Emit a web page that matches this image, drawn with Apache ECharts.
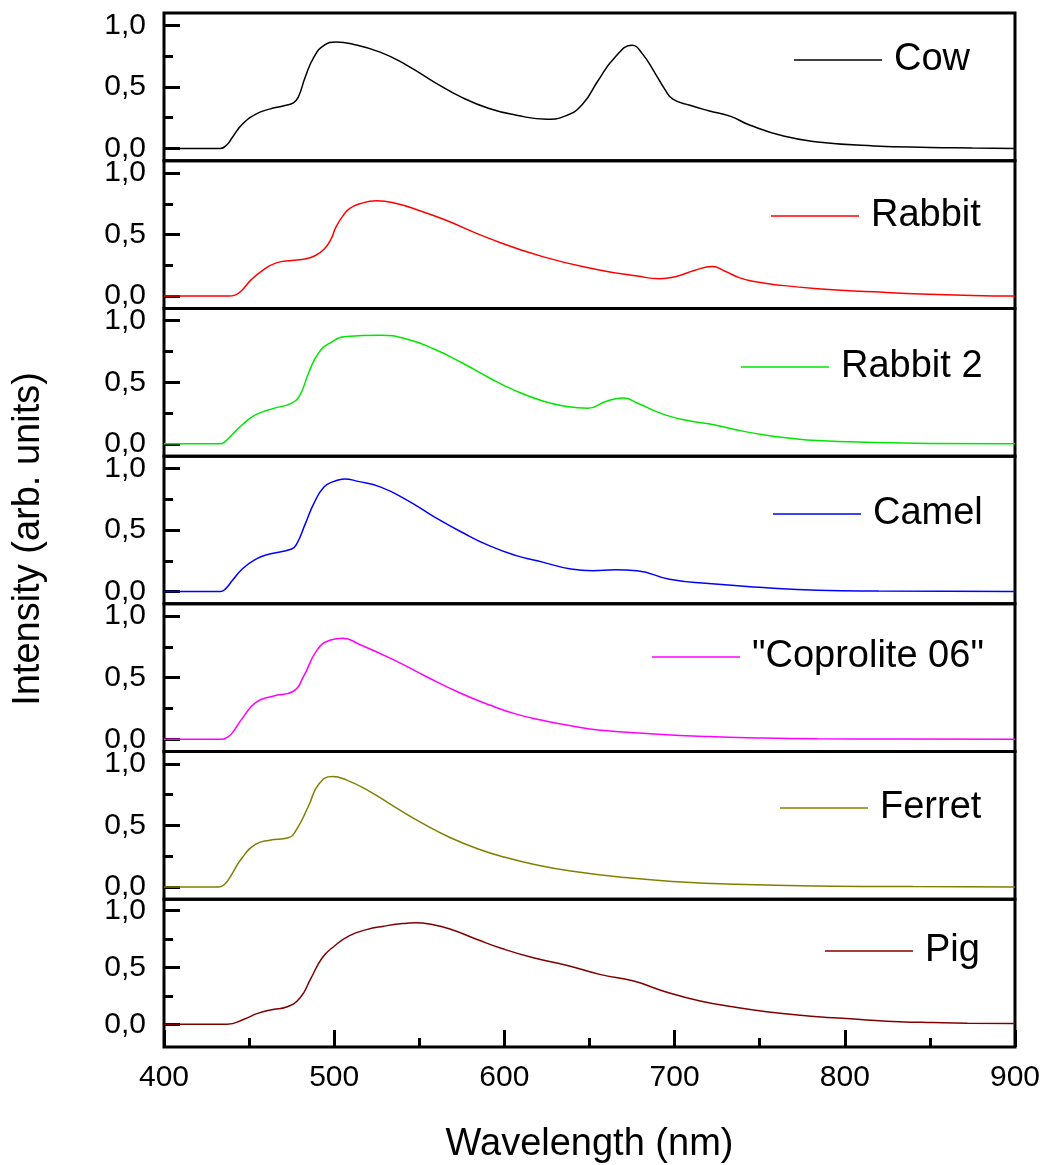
<!DOCTYPE html>
<html>
<head>
<meta charset="utf-8">
<script src="https://cdn.jsdelivr.net/npm/echarts@6/dist/echarts.min.js"></script>
<style>
  html, body { margin: 0; padding: 0; background: #fff; }
  #chart { width: 1046px; height: 1165px; }
</style>
</head>
<body>
<div id="chart"></div>
<script>
// spectra (wavelength in nm, normalised intensity)
var names = ["Cow", "Rabbit", "Rabbit 2", "Camel", "\"Coprolite 06\"", "Ferret", "Pig"];

var cowNm = [400, 433, 437, 440, 446, 454, 462, 470, 476, 479, 483, 488, 494, 501, 510, 527, 543, 559, 575, 591, 607, 625, 636, 646, 655, 665, 675, 681, 689, 694, 699, 709, 720, 733, 744, 764, 784, 817, 850, 875, 900];
var cowVal = [0, 0, 0.03, 0.087, 0.196, 0.278, 0.319, 0.345, 0.37, 0.42, 0.58, 0.74, 0.837, 0.864, 0.85, 0.782, 0.673, 0.537, 0.414, 0.324, 0.27, 0.237, 0.264, 0.36, 0.55, 0.741, 0.837, 0.77, 0.6, 0.486, 0.40, 0.35, 0.306, 0.26, 0.19, 0.10, 0.053, 0.02, 0.008, 0.004, 0];

var rabbitNm = [400, 438, 442, 446, 451, 458, 466, 475, 482, 489, 494, 498, 501, 505, 509, 515, 525, 536, 549, 565, 591, 623, 655, 678, 691, 701, 712, 722, 730, 738, 746, 758, 784, 817, 849, 875, 900];
var rabbitVal = [0, 0, 0.01, 0.05, 0.13, 0.21, 0.27, 0.29, 0.30, 0.33, 0.38, 0.46, 0.56, 0.65, 0.71, 0.75, 0.775, 0.755, 0.70, 0.62, 0.469, 0.319, 0.215, 0.163, 0.142, 0.16, 0.21, 0.24, 0.20, 0.15, 0.12, 0.095, 0.06, 0.035, 0.015, 0.005, 0];

var rabbit2Nm = [400, 433, 436, 440, 446, 454, 465, 475, 480, 485, 491, 498, 507, 527, 543, 559, 575, 591, 607, 623, 636, 649, 660, 670, 678, 694, 710, 723, 736, 752, 768, 784, 817, 849, 900];
var rabbit2Val = [0, 0, 0.02, 0.074, 0.155, 0.237, 0.29, 0.33, 0.40, 0.578, 0.741, 0.823, 0.872, 0.883, 0.85, 0.768, 0.659, 0.537, 0.428, 0.346, 0.305, 0.29, 0.346, 0.373, 0.332, 0.237, 0.183, 0.155, 0.114, 0.074, 0.046, 0.027, 0.011, 0.003, 0];

var camelNm = [400, 433, 436, 440, 446, 454, 462, 475, 478, 483, 488, 494, 500, 506, 514, 527, 543, 559, 575, 591, 607, 623, 639, 652, 665, 678, 697, 720, 752, 784, 820, 900];
var camelVal = [0, 0, 0.02, 0.087, 0.183, 0.264, 0.305, 0.346, 0.387, 0.55, 0.714, 0.85, 0.895, 0.915, 0.895, 0.85, 0.741, 0.605, 0.482, 0.373, 0.292, 0.237, 0.183, 0.169, 0.177, 0.169, 0.10, 0.065, 0.033, 0.011, 0.004, 0];

var coproNm = [400, 434, 437, 440, 446, 454, 464, 476, 482, 490, 498, 505, 515, 535, 554, 574, 591, 607, 623, 639, 655, 688, 720, 752, 784, 830, 900];
var coproVal = [0, 0, 0.015, 0.05, 0.17, 0.30, 0.35, 0.39, 0.51, 0.726, 0.806, 0.82, 0.77, 0.645, 0.51, 0.376, 0.28, 0.204, 0.152, 0.109, 0.076, 0.043, 0.022, 0.011, 0.005, 0.002, 0];

var ferretNm = [400, 432, 435, 438, 446, 454, 462, 473, 478, 485, 491, 499, 507, 520, 536, 552, 568, 585, 601, 617, 639, 671, 704, 736, 784, 840, 900];
var ferretVal = [0, 0, 0.015, 0.062, 0.239, 0.348, 0.38, 0.40, 0.47, 0.66, 0.837, 0.897, 0.87, 0.783, 0.647, 0.516, 0.402, 0.307, 0.239, 0.185, 0.13, 0.076, 0.041, 0.022, 0.008, 0.003, 0];

var pigNm = [400, 437, 447, 455, 464, 472, 480, 486, 493, 500, 509, 519, 529, 540, 548, 556, 568, 584, 599, 617, 637, 656, 676, 695, 715, 735, 754, 774, 793, 813, 832, 852, 872, 900];
var pigVal = [0, 0, 0.044, 0.096, 0.13, 0.152, 0.234, 0.395, 0.585, 0.687, 0.78, 0.833, 0.863, 0.886, 0.893, 0.882, 0.839, 0.746, 0.664, 0.585, 0.518, 0.439, 0.38, 0.284, 0.205, 0.152, 0.111, 0.079, 0.058, 0.038, 0.023, 0.015, 0.009, 0.006];

var xTicks = [400, 500, 600, 700, 800, 900];
var yLabels = [0, 0.5, 1.0];
var yMinor = [0.25, 0.75];
var yMins = [-0.1, -0.1, -0.1, -0.1, -0.1, -0.1, -0.2];

var nmLists = [cowNm, rabbitNm, rabbit2Nm, camelNm, coproNm, ferretNm, pigNm];
var valLists = [cowVal, rabbitVal, rabbit2Val, camelVal, coproVal, ferretVal, pigVal];

// styling / layout
var colors = ["#000000", "#ff0000", "#00e600", "#0000ff", "#ff00ff", "#808000", "#800000"];
var legendLeft = [794, 771, 741, 773, 652, 780, 825];
var legendLineY = [60, 216, 367, 514, 657, 808, 951];
var FONT = "Liberation Sans, Arial, sans-serif";

var chart = echarts.init(document.getElementById("chart"));

var plotTop = 13, plotBottom = 1047, plotLeft = 164, plotRight = 1015;
var h = (plotBottom - plotTop) / 7;

var grids = [], xAxes = [], yAxes = [], series = [], legends = [];
for (let i = 0; i < 7; i++) {
  let last = i === 6;
  grids.push({
    left: plotLeft, width: plotRight - plotLeft,
    top: plotTop + i * h, height: h,
    outerBoundsMode: "none",
    show: true, borderColor: "#000", borderWidth: 3, backgroundColor: "transparent"
  });
  xAxes.push({
    gridIndex: i, type: "value", min: 400, max: 900, interval: 100,
    axisLine: { show: false, onZero: false },
    splitLine: { show: false },
    axisTick: { show: last, inside: true, length: 17, lineStyle: { color: "#000", width: 3 } },
    minorTick: { show: last, splitNumber: 2, length: 9, lineStyle: { color: "#000", width: 3 } },
    axisLabel: {
      show: last, margin: 16, fontSize: 30, color: "#000", fontFamily: FONT,
      customValues: xTicks
    },
    name: last ? "Wavelength (nm)" : "",
    nameLocation: "middle", nameGap: 79,
    nameTextStyle: { fontSize: 38, color: "#000", fontFamily: FONT }
  });
  // major ticks with labels
  yAxes.push({
    gridIndex: i, type: "value", min: yMins[i], max: 1.1, position: "left",
    axisLine: { show: false, onZero: false },
    splitLine: { show: false },
    axisTick: { show: true, inside: true, length: 16, customValues: yLabels, lineStyle: { color: "#000", width: 3 } },
    axisLabel: {
      margin: 18, fontSize: 30, color: "#000", fontFamily: FONT,
      customValues: yLabels,
      formatter: function (v) { return v.toFixed(1).replace(".", ","); }
    }
  });
  // minor ticks
  yAxes.push({
    gridIndex: i, type: "value", min: yMins[i], max: 1.1, position: "left", offset: 0,
    axisLine: { show: false, onZero: false },
    splitLine: { show: false },
    axisTick: { show: true, inside: true, length: 9, customValues: yMinor, lineStyle: { color: "#000", width: 3 } },
    axisLabel: { show: false }
  });
  let nm = nmLists[i], vals = valLists[i];
  series.push({
    name: names[i], type: "line",
    xAxisIndex: i, yAxisIndex: 2 * i,
    data: nm.map(function (x, k) { return [x, vals[k]]; }),
    showSymbol: false, smooth: 0.5,
    lineStyle: { color: colors[i], width: 1.5 },
    itemStyle: { color: colors[i] },
    silent: true
  });
  legends.push({
    data: [names[i]], left: legendLeft[i], top: legendLineY[i] - 19, padding: 0,
    icon: "rect", itemWidth: 88, itemHeight: 1.5,
    textStyle: { fontSize: 38, color: "#000", fontFamily: FONT, padding: [0, 0, 0, 7] }
  });
}

chart.setOption({
  animation: false,
  backgroundColor: "#ffffff",
  grid: grids,
  xAxis: xAxes,
  yAxis: yAxes,
  legend: legends,
  series: series,
  graphic: [{
    type: "text", x: 29, y: 539, rotation: Math.PI / 2,
    style: {
      text: "Intensity (arb. units)", fontSize: 38, fill: "#000", fontFamily: FONT,
      align: "center", verticalAlign: "middle"
    }
  }]
});
</script>
</body>
</html>
